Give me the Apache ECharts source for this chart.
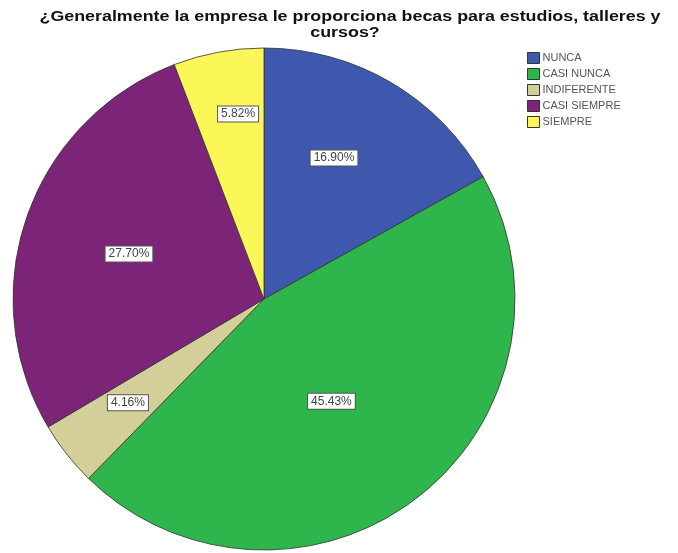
<!DOCTYPE html>
<html>
<head>
<meta charset="utf-8">
<script src="https://cdn.jsdelivr.net/npm/echarts@6/dist/echarts.min.js"></script>
<style>
  html, body { margin: 0; padding: 0; background: #fff; }
  #chart { width: 678px; height: 553px; }
</style>
</head>
<body>
<div id="chart"></div>
<script>
// Survey answers and their shares (%)
const categories = ['NUNCA', 'CASI NUNCA', 'INDIFERENTE', 'CASI SIEMPRE', 'SIEMPRE'];
const percentages = [16.90, 45.43, 4.16, 27.70, 5.82];
const titleLines = ['¿Generalmente la empresa le proporciona becas para estudios, talleres y', 'cursos?'];

// Styling
const sliceColors = ['#3e58ad', '#2eb54c', '#d4ce98', '#7c2478', '#fbf758'];
const labelRadius = [0.627, 0.488, 0.682, 0.567, 0.744]; // label distance as fraction of radius
const labelAngleShift = [-4, 4, 0.8, -0.8, 2.5];          // degrees, relative to slice middle
const center = [264, 299];
const radius = 251;

const total = percentages.reduce((a, b) => a + b, 0);
const midAngles = [];
let acc = 0;
percentages.forEach(v => {
  midAngles.push((acc + v / 2) / total * 360);
  acc += v;
});

const titleFont = 'bold 15px "Liberation Sans", Arial, sans-serif';

const chart = echarts.init(document.getElementById('chart'), null, { renderer: 'canvas' });
chart.setOption({
  animation: false,
  graphic: [
    {
      type: 'text', x: 350, y: 17, scaleX: 1.19,
      style: { text: titleLines[0], font: titleFont, fill: '#111', align: 'center', verticalAlign: 'middle' }
    },
    {
      type: 'text', x: 345, y: 33, scaleX: 1.19,
      style: { text: titleLines[1], font: titleFont, fill: '#111', align: 'center', verticalAlign: 'middle' }
    }
  ],
  legend: {
    orient: 'vertical',
    left: 522,
    top: 47,
    itemWidth: 12,
    itemHeight: 11,
    itemGap: 4,
    icon: 'rect',
    selectedMode: false,
    textStyle: {
      fontFamily: 'Liberation Sans',
      fontSize: 11,
      color: '#555',
      padding: [0, 0, 0, -2]
    },
    itemStyle: { borderColor: '#333', borderWidth: 1 },
    data: categories
  },
  series: [{
    type: 'pie',
    center: center,
    radius: radius,
    startAngle: 90,
    clockwise: true,
    avoidLabelOverlap: false,
    itemStyle: { borderColor: '#333', borderWidth: 0.8 },
    emphasis: { disabled: true },
    label: {
      show: true,
      position: 'inside',
      formatter: p => p.value.toFixed(2) + '%',
      fontFamily: 'Liberation Sans',
      fontSize: 12,
      color: '#444',
      backgroundColor: '#fff',
      borderColor: '#555',
      borderWidth: 1,
      padding: [2, 3, 1, 3]
    },
    labelLine: { show: false },
    labelLayout: function (params) {
      const i = params.dataIndex;
      const a = (midAngles[i] + labelAngleShift[i]) * Math.PI / 180;
      const d = labelRadius[i] * radius;
      return {
        x: center[0] + d * Math.sin(a),
        y: center[1] - d * Math.cos(a),
        align: 'center',
        verticalAlign: 'middle'
      };
    },
    data: categories.map((name, i) => ({
      name: name,
      value: percentages[i],
      itemStyle: { color: sliceColors[i] }
    }))
  }]
});
</script>
</body>
</html>
